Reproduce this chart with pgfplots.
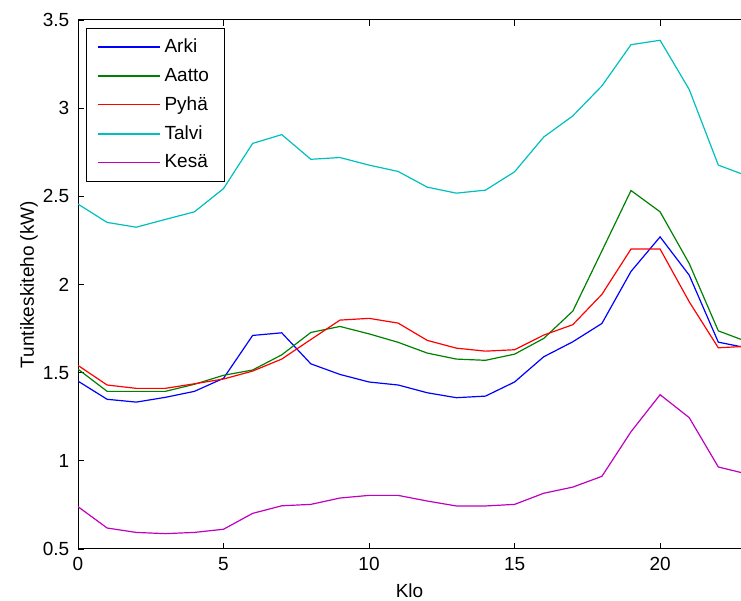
\documentclass[border=0pt]{standalone}
\usepackage{fontspec}
\setmainfont{Liberation Sans}
\usepackage{pgfplots}
\pgfplotsset{compat=1.18}

\definecolor{mBlue}{rgb}{0,0,1}
\definecolor{mGreen}{rgb}{0,0.5,0}
\definecolor{mRed}{rgb}{1,0,0}
\definecolor{mCyan}{rgb}{0,0.75,0.75}
\definecolor{mMagenta}{rgb}{0.75,0,0.75}

\newcommand{\chartfont}{\fontsize{9.5}{11.5}\selectfont}

\begin{document}
\chartfont
\begin{tikzpicture}
\begin{axis}[
  name=ax,
  width=331.5pt, height=264.5pt,
  scale only axis,
  xmin=0, xmax=22.78,
  ymin=0.5, ymax=3.5,
  axis x line*=box, axis y line*=left,
  xtick={0,5,10,15,20},
  ytick={0.5,1,1.5,2,2.5,3,3.5},
  yticklabels={0.5,1,1.5,2,2.5,3,3.5},
  tick align=inside,
  major tick length=3pt,
  tick style={black, line width=0.4pt},
  axis line style={black, line width=0.5pt},
  /pgf/number format/assume math mode=true,
  ticklabel style={font=\chartfont},
  label style={font=\chartfont},
  xlabel={Klo}, ylabel={Tuntikeskiteho (kW)},
  xlabel style={at={(axis description cs:0.5,0)}, anchor=center, yshift=-21pt},
  ylabel style={at={(axis description cs:0,0.5)}, anchor=center, yshift=24.5pt},
  xticklabel style={yshift=-1pt},
  yticklabel style={xshift=-1pt},
  legend style={at={(rel axis cs:0.012,0.985)}, anchor=north west,
    draw=black, font=\chartfont,
    row sep=2.3pt, inner xsep=5.5pt, inner ysep=3.2pt},
  legend cell align=left,
  legend image code/.code={\draw[#1, line width=0.6pt] (0pt,0pt) -- (31pt,0pt);},
  every axis plot/.append style={line width=0.6pt},
]
% Arki
\addplot[mBlue] coordinates {
(0,1.452) (1,1.349) (2,1.333) (3,1.360) (4,1.394) (5,1.468) (6,1.711) (7,1.726)
(8,1.550) (9,1.490) (10,1.447) (11,1.430) (12,1.386) (13,1.358) (14,1.367) (15,1.447)
(16,1.590) (17,1.675) (18,1.779) (19,2.074) (20,2.270) (21,2.053) (22,1.673) (23,1.640)};
\addlegendentry{Arki}
% Aatto
\addplot[mGreen] coordinates {
(0,1.520) (1,1.394) (2,1.394) (3,1.394) (4,1.434) (5,1.485) (6,1.515) (7,1.601)
(8,1.728) (9,1.762) (10,1.720) (11,1.672) (12,1.611) (13,1.577) (14,1.570) (15,1.605)
(16,1.694) (17,1.849) (18,2.190) (19,2.533) (20,2.412) (21,2.119) (22,1.737) (23,1.675)};
\addlegendentry{Aatto}
% Pyhä
\addplot[mRed] coordinates {
(0,1.541) (1,1.430) (2,1.411) (3,1.411) (4,1.437) (5,1.464) (6,1.509) (7,1.577)
(8,1.688) (9,1.798) (10,1.808) (11,1.781) (12,1.683) (13,1.639) (14,1.622) (15,1.630)
(16,1.713) (17,1.772) (18,1.944) (19,2.201) (20,2.201) (21,1.902) (22,1.641) (23,1.650)};
\addlegendentry{Pyhä}
% Talvi
\addplot[mCyan] coordinates {
(0,2.456) (1,2.352) (2,2.325) (3,2.369) (4,2.412) (5,2.544) (6,2.800) (7,2.850)
(8,2.710) (9,2.720) (10,2.677) (11,2.641) (12,2.552) (13,2.518) (14,2.535) (15,2.639)
(16,2.836) (17,2.956) (18,3.126) (19,3.360) (20,3.385) (21,3.106) (22,2.677) (23,2.615)};
\addlegendentry{Talvi}
% Kesä
\addplot[mMagenta] coordinates {
(0,0.740) (1,0.619) (2,0.594) (3,0.587) (4,0.594) (5,0.612) (6,0.702) (7,0.745)
(8,0.753) (9,0.789) (10,0.804) (11,0.804) (12,0.772) (13,0.744) (14,0.744) (15,0.753)
(16,0.816) (17,0.851) (18,0.912) (19,1.165) (20,1.375) (21,1.245) (22,0.965) (23,0.925)};
\addlegendentry{Kesä}
\end{axis}
\pgfresetboundingbox
\useasboundingbox ([xshift=-39pt,yshift=-26pt]ax.south west) rectangle ([yshift=10pt]ax.north east);
\end{tikzpicture}
\end{document}
